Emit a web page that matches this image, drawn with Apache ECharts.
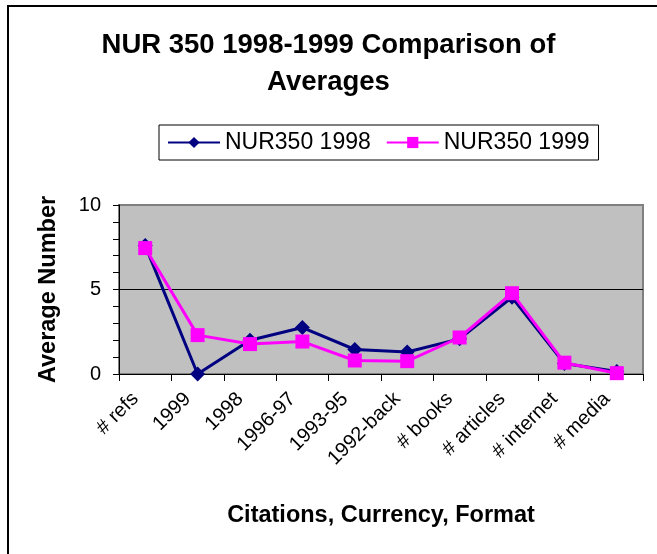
<!DOCTYPE html>
<html>
<head>
<meta charset="utf-8">
<script src="https://cdn.jsdelivr.net/npm/echarts@6/dist/echarts.min.js"></script>
<style>
  html, body { margin: 0; padding: 0; background: #fff; }
  #chart { width: 657px; height: 554px; }
</style>
</head>
<body>
<div id="chart"></div>
<script>
  var categories = ['# refs', '1999', '1998', '1996-97', '1993-95', '1992-back', '# books', '# articles', '# internet', '# media'];
  var nur1998 = [7.6, 0.0, 2.0, 2.75, 1.45, 1.3, 2.08, 4.54, 0.62, 0.15];
  var nur1999 = [7.45, 2.3, 1.77, 1.92, 0.8, 0.76, 2.16, 4.78, 0.67, 0.05];
  var yTicks = [0, 5, 10];

  var font = '"Liberation Sans", Arial, sans-serif';
  var chart = echarts.init(document.getElementById('chart'));

  chart.setOption({
    animation: false,
    backgroundColor: '#ffffff',
    graphic: [{
      type: 'rect',
      shape: { x: 8, y: 6, width: 700, height: 600 },
      style: { fill: 'none', stroke: '#000', lineWidth: 2 },
      silent: true
    }],
    title: {
      text: 'NUR 350 1998-1999 Comparison of\nAverages',
      left: 'center',
      top: 27,
      padding: 0,
      textStyle: { fontFamily: font, fontSize: 27.5, fontWeight: 'bold', color: '#000', lineHeight: 37 }
    },
    legend: {
      left: 159,
      top: 125,
      padding: [6, 9, 6, 8],
      itemWidth: 52,
      itemHeight: 14,
      itemGap: 15,
      borderColor: '#000',
      borderWidth: 1,
      textStyle: { fontFamily: font, fontSize: 23, color: '#000' },
      data: ['NUR350 1998', 'NUR350 1999']
    },
    grid: {
      left: 119,
      top: 205,
      right: 14,
      bottom: 180,
      show: true,
      backgroundColor: '#c0c0c0',
      borderColor: '#808080',
      borderWidth: 2
    },
    xAxis: {
      type: 'category',
      data: categories,
      boundaryGap: true,
      name: 'Citations, Currency, Format',
      nameLocation: 'middle',
      nameGap: 130,
      nameMoveOverlap: false,
      nameTextStyle: { fontFamily: font, fontSize: 23.5, fontWeight: 'bold', color: '#000' },
      axisLine: { lineStyle: { color: '#000', width: 1 } },
      axisTick: { show: true, alignWithLabel: false, length: 7, lineStyle: { color: '#000' } },
      axisLabel: { rotate: 45, margin: 12, padding: [0, 14, 0, 0], interval: 0, fontFamily: font, fontSize: 20, color: '#000' },
      splitLine: { show: false }
    },
    yAxis: {
      type: 'value',
      min: yTicks[0],
      max: yTicks[yTicks.length - 1],
      interval: 5,
      name: 'Average Number',
      nameLocation: 'middle',
      nameGap: 58,
      nameMoveOverlap: false,
      nameTextStyle: { fontFamily: font, fontSize: 23.5, fontWeight: 'bold', color: '#000' },
      axisLine: { show: true, lineStyle: { color: '#000', width: 1 } },
      axisTick: { show: true, length: 6, lineStyle: { color: '#000' } },
      minorTick: { show: true, splitNumber: 5, length: 6, lineStyle: { color: '#000' } },
      axisLabel: { margin: 18, fontFamily: font, fontSize: 20, color: '#000' },
      splitLine: { show: true, showMinLine: false, showMaxLine: false, lineStyle: { color: '#000', width: 1 } }
    },
    series: [
      {
        name: 'NUR350 1998',
        type: 'line',
        data: nur1998,
        symbol: 'diamond',
        symbolSize: 15,
        lineStyle: { color: '#000080', width: 3 },
        itemStyle: { color: '#000080' },
        z: 2
      },
      {
        name: 'NUR350 1999',
        type: 'line',
        data: nur1999,
        symbol: 'rect',
        symbolSize: 14,
        lineStyle: { color: '#ff00ff', width: 3 },
        itemStyle: { color: '#ff00ff' },
        z: 3
      }
    ]
  });

  window.addEventListener('resize', function () {
    chart.resize();
  });
</script>
</body>
</html>
